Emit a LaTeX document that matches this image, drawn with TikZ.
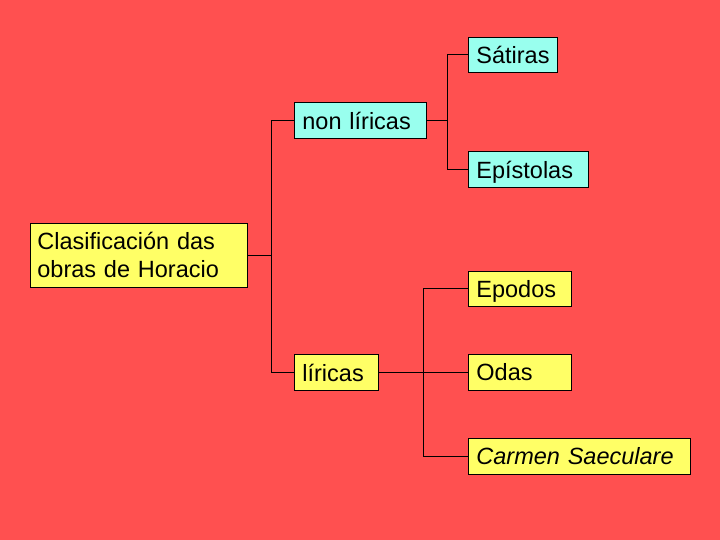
\documentclass[tikz,border=0pt]{standalone}
\usepackage{fontspec}
\setmainfont{Liberation Sans}
\definecolor{bgred}{RGB}{255,80,80}
\definecolor{boxcyan}{RGB}{153,255,238}
\definecolor{boxyellow}{RGB}{255,255,102}
\begin{document}
\begin{tikzpicture}[x=1pt,y=-1pt,
  box/.style={draw=black, line width=0.8pt, anchor=north west, inner xsep=8pt, inner ysep=0pt,
    align=left, font=\fontsize{23.5}{28}\selectfont},
  one/.style={text depth=0pt},
  cy/.style={box, one, fill=boxcyan},
  ye/.style={box, one, fill=boxyellow},
  conn/.style={draw=black, line width=1pt}]
\fill[bgred] (0,0) rectangle (720,540);
\useasboundingbox (0,0) rectangle (720,540);
\node[box, fill=boxyellow, inner xsep=7pt, text width=203pt, minimum height=64pt] (clas) at (30,223) {Clasificación das\\obras de Horacio};
\node[cy, text width=116pt, minimum height=36pt] (non) at (294,102) {non líricas};
\node[ye, text width=68pt, minimum height=36pt] (lir) at (294,354) {líricas};
\node[cy, text width=73pt, minimum height=35pt] (sat) at (468,37) {Sátiras};
\node[cy, text width=104pt, minimum height=36pt] (epi) at (468,151) {Epístolas};
\node[ye, text width=87pt, minimum height=35pt] (epo) at (468,271) {Epodos};
\node[ye, text width=87pt, minimum height=36pt] (odas) at (468,354) {Odas};
\node[ye, text width=206pt, minimum height=36pt] (carm) at (468,438) {\itshape Carmen Saeculare};
\draw[conn] (clas.east) -- (271,0 |- clas.east);
\draw[conn] (non.west) -- ++(-23,0) |- (lir.west);
\draw[conn] (non.east) -- ++(21,0);
\draw[conn] (sat.west) -- ++(-21,0) |- (epi.west);
\draw[conn] (lir.east) -- (odas.west);
\draw[conn] (epo.west) -- ++(-45,0) |- (carm.west);
\end{tikzpicture}
\end{document}
